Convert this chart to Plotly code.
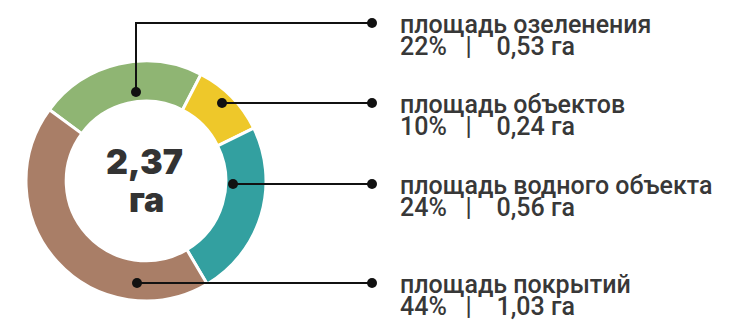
import plotly.graph_objects as go

# Land-use breakdown of the site (hectares)
categories = ["площадь озеленения", "площадь объектов", "площадь водного объекта", "площадь покрытий"]
area_ha = [0.53, 0.24, 0.56, 1.03]
share_pct = [22, 10, 24, 44]
area_labels = ["0,53 га", "0,24 га", "0,56 га", "1,03 га"]
total_label = "2,37"
total_unit = "га"

colors = ["#8fb573", "#eec82a", "#33a0a0", "#a97e67"]

W, H = 734, 321
cx, cy, r_out = 146, 181, 120  # donut centre and outer radius, px

# leader anchors on the ring (px) and the row each label sits on
anchors = [(136, 92), (222, 103), (233, 184), (137, 283)]
rows = [23, 103, 184, 283]
line_end_x = 372
text_x = 398
dot_r = 5

fig = go.Figure()

fig.add_trace(go.Pie(
    labels=categories,
    values=area_ha,
    hole=0.665,
    sort=False,
    direction="clockwise",
    rotation=-53.6,
    marker=dict(colors=colors, line=dict(color="white", width=3)),
    textinfo="none",
    hoverinfo="label+value",
    domain=dict(x=[(cx - r_out) / W, (cx + r_out) / W],
                y=[(H - cy - r_out) / H, (H - cy + r_out) / H]),
    showlegend=False,
))

# leader lines drawn as shapes so they sit above the donut
line_style = dict(color="#111111", width=2)
for (ax, ay), ry in zip(anchors, rows):
    if abs(ay - ry) > 2:
        fig.add_shape(type="line", x0=ax, y0=ay, x1=ax, y1=ry,
                      xref="x", yref="y", line=line_style, layer="above")
        fig.add_shape(type="line", x0=ax - 1, y0=ry, x1=line_end_x, y1=ry,
                      xref="x", yref="y", line=line_style, layer="above")
    else:
        fig.add_shape(type="line", x0=ax, y0=ry, x1=line_end_x, y1=ry,
                      xref="x", yref="y", line=line_style, layer="above")
    for px, py in [(ax, ay), (line_end_x, ry)]:
        fig.add_shape(type="circle", x0=px - dot_r, y0=py - dot_r,
                      x1=px + dot_r, y1=py + dot_r, xref="x", yref="y",
                      fillcolor="#111111", line=dict(width=0), layer="above")

# category labels: name on one row, share and area just below
label_font = dict(family="Roboto", size=25, color="#383838", weight=500)
for name, pct, area, ry in zip(categories, share_pct, area_labels, rows):
    fig.add_annotation(
        x=text_x, y=ry + 1, xref="x", yref="y",
        xanchor="left", yanchor="middle", align="left",
        text=name, showarrow=False, font=label_font,
    )
    fig.add_annotation(
        x=text_x, y=ry + 23, xref="x", yref="y",
        xanchor="left", yanchor="middle", align="left",
        text=f"{pct}%   |    {area}", showarrow=False, font=label_font,
    )

# total in the hole
total_font = dict(family="Inter", size=34, color="#333333", weight=900)
fig.add_annotation(x=cx - 2, y=161, xref="x", yref="y", text=total_label,
                   showarrow=False, font=total_font)
fig.add_annotation(x=cx, y=199, xref="x", yref="y", text=total_unit,
                   showarrow=False, font=total_font)

fig.update_layout(
    width=W, height=H,
    margin=dict(l=0, r=0, t=0, b=0),
    paper_bgcolor="white", plot_bgcolor="rgba(0,0,0,0)",
    xaxis=dict(range=[0, W], domain=[0, 1], visible=False, fixedrange=True),
    yaxis=dict(range=[H, 0], domain=[0, 1], visible=False, fixedrange=True),
)

fig.write_html("out.html")
